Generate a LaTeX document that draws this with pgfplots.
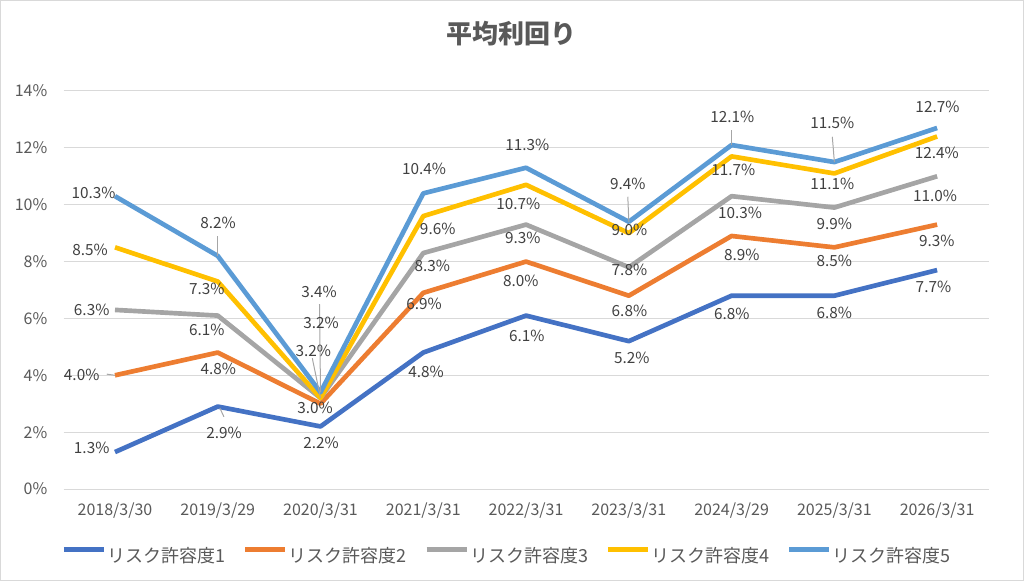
\documentclass[border=0pt]{standalone}
\usepackage{fontspec}
\setmainfont{Noto Sans CJK JP}
\usepackage{pgfplots}
\pgfplotsset{compat=1.18}
\usepackage{pgfplotstable}
\definecolor{c1}{HTML}{4472C4}
\definecolor{c2}{HTML}{ED7D31}
\definecolor{c3}{HTML}{A5A5A5}
\definecolor{c4}{HTML}{FFC000}
\definecolor{c5}{HTML}{5B9BD5}
\definecolor{txt}{HTML}{595959}
\definecolor{lbl}{HTML}{404040}
\definecolor{grd}{HTML}{D9D9D9}
\definecolor{ldr}{HTML}{A6A6A6}

% x y dx dy  (dx, dy: label offset in pixels, dy downward)
\pgfplotstableread{
x y dx dy
0 1.3 -23.3 -3.7
1 2.9 6.3 26.1
2 2.2 0.5 16.8
3 4.8 2.75 19.2
4 6.1 0.7 20.1
5 5.2 3 16.5
6 6.8 0.2 18.6
7 6.8 0 17
8 7.7 -3.7 17.2
}\tA
\pgfplotstableread{
x y dx dy
0 4.0 -33.3 0
1 4.8 0.6 16.8
2 3.0 -5.5 4.6
3 6.9 0.75 11.2
4 8.0 -5.3 19.4
5 6.8 0.6 15.3
6 8.9 10.2 19
7 8.5 0 13.4
8 9.3 -0.3 16.4
}\tB
\pgfplotstableread{
x y dx dy
0 6.3 -23.3 0
1 6.1 -11 14.4
2 3.2 -7.2 -47
3 8.3 9 12.7
4 9.3 -3.3 13.7
5 7.8 0.6 2.8
6 10.3 8.5 17.1
7 9.9 0 16.8
8 11.0 -2 19.4
}\tC
\pgfplotstableread{
x y dx dy
0 8.5 -25 2.7
1 7.3 -11 7.2
2 3.2 0.5 -74.7
3 9.6 14.4 13.2
4 10.7 -7.7 19.2
5 9.0 0.6 -3.1
6 11.7 1.8 13.6
7 11.1 -2 10.9
8 12.4 -0.3 16.8
}\tD
\pgfplotstableread{
x y dx dy
0 10.3 -21.5 -3
1 8.2 0.25 -33
2 3.4 -1.5 -100.6
3 10.4 0.75 -24
4 11.3 1.3 -22.7
5 9.4 -1 -37.8
6 12.1 0.8 -28.3
7 11.5 -2 -38.8
8 12.7 0.3 -21.4
}\tE

\pgfplotsset{
  lblplot/.style={
    draw=none, forget plot,
    point meta=explicit,
    visualization depends on={\thisrow{dx}\as\dx},
    visualization depends on={\thisrow{dy}\as\dy},
    nodes near coords={\pgfmathprintnumber[fixed,fixed zerofill,precision=1]{\pgfplotspointmeta}\%},
    nodes near coords style={anchor=center, inner sep=0pt, text=lbl,
      font=\fontsize{11.5}{13}\selectfont,
      xshift={(\dx)*0.75pt}, yshift={-1*(\dy)*0.75pt}},
  },
  serline/.style={line width=3.5pt, line join=round},
}

\begin{document}
\begin{tikzpicture}
\useasboundingbox (0pt,0pt) rectangle (768pt,-435.75pt);
\draw[grd, line width=0.75pt] (0.375pt,-0.375pt) rectangle (767.625pt,-435.375pt);
\node[anchor=center, text=txt, font=\fontsize{19.5}{21}\selectfont\bfseries] at (383.5pt,-25.1pt) {平均利回り};
\begin{axis}[
  at={(47.7pt,-366.75pt)}, anchor=south west,
  scale only axis, width=693.7pt, height=298.5pt,
  xmin=-0.5, xmax=8.5, ymin=0, ymax=14,
  clip=false,
  axis line style={draw=none},
  major tick length=0pt,
  xtick={0,...,8},
  xticklabels={2018/3/30,2019/3/29,2020/3/31,2021/3/31,2022/3/31,2023/3/31,2024/3/29,2025/3/31,2026/3/31},
  ytick={0,2,...,14},
  yticklabel={\pgfmathprintnumber{\tick}\%},
  /pgf/number format/assume math mode=true,
  ymajorgrids, grid style={grd, line width=0.75pt},
  ticklabel style={text=txt, font=\fontsize{12}{14}\selectfont},
  xticklabel style={anchor=center, inner sep=0pt, yshift=-16.5pt},
  yticklabel style={anchor=east, inner sep=0pt, xshift=-12pt},
  no markers,
  legend columns=5,
  legend style={at={(-0.0021,-0.168)}, anchor=west, draw=none, fill=none,
    inner sep=0pt, outer sep=0pt, text=txt, font=\fontsize{13.5}{15}\selectfont,
    /tikz/every odd column/.append style={column sep=1pt},
    /tikz/every even column/.append style={column sep=11.5pt},
    nodes={inner sep=0pt, text width=90pt, align=left}},
  legend image code/.code={\draw[#1, line width=3.5pt] (0pt,4.7pt) -- (30pt,4.7pt);},
]
\addplot[c1, serline] table[x=x,y=y]{\tA};
\addlegendentry{リスク許容度1}
\addplot[c2, serline] table[x=x,y=y]{\tB};
\addlegendentry{リスク許容度2}
\addplot[c3, serline] table[x=x,y=y]{\tC};
\addlegendentry{リスク許容度3}
\addplot[c4, serline] table[x=x,y=y]{\tD};
\addlegendentry{リスク許容度4}
\addplot[c5, serline] table[x=x,y=y]{\tE};
\addlegendentry{リスク許容度5}

% leader lines
\draw[ldr, line width=0.75pt] (axis cs:1,8.2) -- (axis cs:1,8.9);
\draw[ldr, line width=0.75pt] (axis cs:2,3.4) -- (axis cs:1.99,6.5);
\draw[ldr, line width=0.75pt] (axis cs:2,3.2) -- (axis cs:1.92,4.6);
\draw[ldr, line width=0.75pt] (axis cs:5,9.4) -- (axis cs:4.99,10.28);
\draw[ldr, line width=0.75pt] (axis cs:6,12.1) -- (axis cs:6,12.63);
\draw[ldr, line width=0.75pt] (axis cs:7,11.5) -- (axis cs:6.98,12.39);
\draw[ldr, line width=0.75pt] (axis cs:0,4.0) -- (axis cs:-0.08,4.04);
\draw[ldr, line width=0.75pt] (axis cs:1.02,2.85) -- (axis cs:1.06,2.54);

\addplot[lblplot] table[x=x,y=y,meta=y]{\tA};
\addplot[lblplot] table[x=x,y=y,meta=y]{\tB};
\addplot[lblplot] table[x=x,y=y,meta=y]{\tC};
\addplot[lblplot] table[x=x,y=y,meta=y]{\tD};
\addplot[lblplot] table[x=x,y=y,meta=y]{\tE};
\end{axis}
\end{tikzpicture}
\end{document}
